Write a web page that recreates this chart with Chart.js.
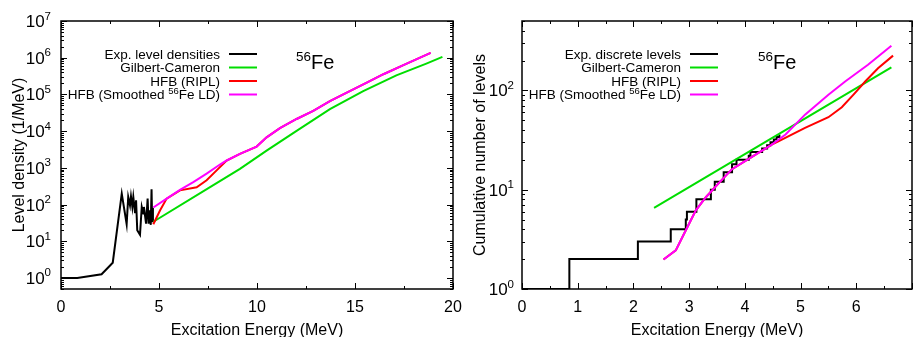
<!DOCTYPE html>
<html>
<head>
<meta charset="utf-8">
<script src="https://cdn.jsdelivr.net/npm/chart.js@4.4.0/dist/chart.umd.min.js"></script>
<style>
  body { margin: 0; background: #fff; width: 913px; height: 337px; overflow: hidden; position: relative; }
  #boxA { position: absolute; left: 0; top: 0; }
  #boxB { position: absolute; left: 456px; top: 0; }
</style>
</head>
<body>
<div id="boxA"><canvas id="levDens" width="470" height="337"></canvas></div>
<div id="boxB"><canvas id="cumLev" width="457" height="337"></canvas></div>
<script>
// ---- left panel: level density (1/MeV) vs excitation energy ----
var ldExpE   = [0, 0.83, 2.07, 2.64, 3.10, 3.35, 3.43, 3.52, 3.57, 3.64, 3.69, 3.78, 3.83, 3.89, 4.03, 4.12, 4.20, 4.23, 4.34, 4.42, 4.47, 4.54, 4.58, 4.62, 4.65, 4.69];
var ldExpRho = [1, 1, 1.26, 2.6, 198, 29, 160, 95, 167, 86, 160, 58, 130, 20, 15, 86, 57, 86, 30, 145, 30, 70, 28, 260, 35, 80];

var ldGcE   = [4.71, 7.5, 9.13, 10.49, 12.02, 13.72, 15.42, 17.11, 18.64, 19.46];
var ldGcRho = [34, 275, 933, 2950, 10200, 39800, 123000, 331000, 692000, 1050000];

var ldRiplE   = [4.71, 5.05, 5.39, 6.07, 6.92, 7.43, 7.94, 8.45, 9.13, 9.98, 10.49, 11.17, 12.02, 12.87, 13.72, 14.58, 15.60, 16.45, 17.47, 18.32, 18.86];
var ldRiplRho = [29, 69, 145, 243, 295, 457, 851, 1585, 2400, 3800, 6760, 12000, 21400, 35500, 66000, 112000, 209000, 355000, 631000, 1000000, 1350000];

var ldSmE   = [4.71, 5.39, 6.07, 6.75, 7.43, 8.11, 8.45, 9.13, 9.98, 10.49, 11.17, 12.02, 12.87, 13.72, 14.58, 15.60, 16.45, 17.47, 18.32, 18.86];
var ldSmRho = [83, 145, 251, 407, 692, 1230, 1585, 2400, 3800, 6760, 12000, 21400, 35500, 66000, 112000, 209000, 355000, 631000, 1000000, 1350000];

// ---- right panel: cumulative number of levels ----
var stairE = [0, 0.85, 2.08, 2.67, 2.94, 2.96, 3.13, 3.39, 3.46, 3.62, 3.77, 3.85, 4.07, 4.10, 4.31, 4.40, 4.46, 4.52, 4.57, 4.62];
var stairN = [1, 2, 3, 4, 5, 6, 8, 10, 12, 15, 18, 20, 22, 24, 26, 28, 30, 32, 34, 36];

var cumGcE = [2.37, 6.63];
var cumGcN = [6.56, 171];

var cumRiplE = [2.54, 2.76, 2.94, 3.12, 3.30, 3.54, 3.77, 4.01, 4.25, 4.49, 4.61, 5.08, 5.50, 5.74, 5.95, 6.16, 6.39, 6.66];
var cumRiplN = [1.98, 2.45, 3.9, 6.2, 8.4, 11.8, 16.1, 19.5, 23.6, 28.6, 30.9, 42, 53.7, 67.6, 90.6, 123, 167, 224];

var cumSmE = [2.54, 2.76, 2.94, 3.12, 3.30, 3.54, 3.77, 4.01, 4.25, 4.49, 4.73, 5.08, 5.50, 5.80, 6.21, 6.63];
var cumSmN = [1.98, 2.45, 3.9, 6.2, 8.4, 11.8, 16.1, 19.5, 23.6, 28.6, 36, 57, 90.6, 123, 181, 282];

// ---- axis ticks ----
var ldXTicks = [0, 5, 10, 15, 20];
var ldYDecades = [0, 1, 2, 3, 4, 5, 6, 7];
var cumXTicks = [0, 1, 2, 3, 4, 5, 6];
var cumYDecades = [0, 1, 2];

var FONT = '"Liberation Sans", Arial, Helvetica, sans-serif';
function font(px) { return px + 'px ' + FONT; }

function xy(xs, ys) {
  return xs.map(function (x, i) { return { x: x, y: ys[i] }; });
}

// parts: [text, size, rise]
function richText(ctx, parts, x, y, align) {
  var w = 0;
  parts.forEach(function (p) { ctx.font = font(p[1]); w += ctx.measureText(p[0]).width; });
  var cx = align === 'right' ? x - w : (align === 'center' ? x - w / 2 : x);
  ctx.textAlign = 'left';
  ctx.textBaseline = 'alphabetic';
  parts.forEach(function (p) {
    ctx.font = font(p[1]);
    ctx.fillText(p[0], cx, y - (p[2] || 0));
    cx += ctx.measureText(p[0]).width;
  });
}

function deco(cfg) {
  return {
    id: 'deco',
    afterDraw: function (chart) {
      var ctx = chart.ctx, a = chart.chartArea;
      var xs = chart.scales.x, ys = chart.scales.y;
      ctx.save();
      ctx.strokeStyle = '#000';
      ctx.fillStyle = '#000';

      // inward tick marks on all four sides
      ctx.lineWidth = 1;
      ctx.beginPath();
      function xTick(v, len) {
        var px = Math.round(xs.getPixelForValue(v)) + 0.5;
        ctx.moveTo(px, a.bottom); ctx.lineTo(px, a.bottom - len);
        ctx.moveTo(px, a.top); ctx.lineTo(px, a.top + len);
      }
      function yTick(v, len) {
        var py = Math.round(ys.getPixelForValue(v)) + 0.5;
        ctx.moveTo(a.left, py); ctx.lineTo(a.left + len, py);
        ctx.moveTo(a.right, py); ctx.lineTo(a.right - len, py);
      }
      for (var v = xs.min; v <= xs.max + 1e-9; v += cfg.xMinorStep) {
        var isMajor = Math.abs(v / cfg.xMajorStep - Math.round(v / cfg.xMajorStep)) < 1e-6;
        xTick(v, isMajor ? 6 : 3);
      }
      for (var d = Math.floor(Math.log10(ys.min)); d <= Math.ceil(Math.log10(ys.max)); d++) {
        for (var k = 1; k <= 9; k++) {
          var val = k * Math.pow(10, d);
          if (val < ys.min - 1e-9 || val > ys.max + 1e-9) continue;
          yTick(val, k === 1 ? 6 : 3);
        }
      }
      ctx.stroke();

      // frame
      ctx.lineWidth = 1.5;
      ctx.strokeRect(a.left, a.top, a.right - a.left, a.bottom - a.top);

      // x tick labels
      ctx.font = font(16);
      ctx.textAlign = 'center';
      ctx.textBaseline = 'alphabetic';
      cfg.xLabels.forEach(function (t) {
        ctx.fillText(String(t), xs.getPixelForValue(t), 312);
      });
      // y tick labels 10^n
      cfg.decades.forEach(function (n) {
        var py = ys.getPixelForValue(Math.pow(10, n));
        richText(ctx, [['10', 17, 0], [String(n), 11.5, 7.5]], a.left - cfg.labelGap, py + 6, 'right');
      });

      // axis titles
      ctx.font = font(16);
      ctx.textAlign = 'center';
      ctx.fillText('Excitation Energy (MeV)', (a.left + a.right) / 2, 335);
      ctx.save();
      ctx.translate(cfg.yTitleX, 155);
      ctx.rotate(-Math.PI / 2);
      ctx.fillText(cfg.yTitle, 0, 0);
      ctx.restore();

      // legend (text right-aligned, sample line after it)
      var rows = [54, 67.5, 81, 94.5];
      cfg.legend.forEach(function (parts, i) {
        var ds = chart.data.datasets[i];
        ctx.fillStyle = '#000';
        richText(ctx, parts, cfg.legX, rows[i] + 4.5, 'right');
        ctx.strokeStyle = ds.borderColor;
        ctx.lineWidth = 2;
        ctx.beginPath();
        ctx.moveTo(cfg.legX + 9, rows[i]);
        ctx.lineTo(cfg.legX + 37, rows[i]);
        ctx.stroke();
      });

      // nucleus label
      ctx.fillStyle = '#000';
      richText(ctx, [['56', 13.5, 8], ['Fe', 20, 0]], cfg.nucX, 69, 'left');
      ctx.restore();
    }
  };
}

function lineSet(label, data, color, order, extra) {
  var ds = {
    label: label, data: data, borderColor: color, backgroundColor: color,
    borderWidth: 2, pointRadius: 0, tension: 0, fill: false, order: order
  };
  for (var k in extra) ds[k] = extra[k];
  return ds;
}

function baseOptions(pad, xMin, xMax, yMin, yMax) {
  return {
    responsive: false,
    animation: false,
    events: [],
    layout: { padding: pad },
    plugins: { legend: { display: false }, tooltip: { enabled: false } },
    scales: {
      x: { type: 'linear', min: xMin, max: xMax, display: false },
      y: { type: 'logarithmic', min: yMin, max: yMax, display: false }
    }
  };
}

var smLegend = [['HFB (Smoothed ', 13.5, 0], ['56', 9.5, 5], ['Fe LD)', 13.5, 0]];

new Chart(document.getElementById('levDens').getContext('2d'), {
  type: 'line',
  data: {
    datasets: [
      lineSet('Exp. level densities', xy(ldExpE, ldExpRho), '#000000', 4),
      lineSet('Gilbert-Cameron', xy(ldGcE, ldGcRho), '#00dd00', 3),
      lineSet('HFB (RIPL)', xy(ldRiplE, ldRiplRho), '#ff0000', 2),
      lineSet('HFB (Smoothed 56Fe LD)', xy(ldSmE, ldSmRho), '#ff00ff', 1)
    ]
  },
  options: baseOptions({ left: 61, right: 17, top: 21, bottom: 48 }, 0, 20, 0.5, 1e7),
  plugins: [deco({
    xMajorStep: 5, xMinorStep: 2.5, xLabels: ldXTicks, decades: ldYDecades,
    labelGap: 10, yTitle: 'Level density (1/MeV)', yTitleX: 24,
    legX: 220, nucX: 296,
    legend: [[['Exp. level densities', 13.5, 0]], [['Gilbert-Cameron', 13.5, 0]], [['HFB (RIPL)', 13.5, 0]], smLegend]
  })]
});

new Chart(document.getElementById('cumLev').getContext('2d'), {
  type: 'line',
  data: {
    datasets: [
      lineSet('Exp. discrete levels', xy(stairE, stairN), '#000000', 4, { stepped: true }),
      lineSet('Gilbert-Cameron', xy(cumGcE, cumGcN), '#00dd00', 3),
      lineSet('HFB (RIPL)', xy(cumRiplE, cumRiplN), '#ff0000', 2),
      lineSet('HFB (Smoothed 56Fe LD)', xy(cumSmE, cumSmN), '#ff00ff', 1)
    ]
  },
  options: baseOptions({ left: 66, right: 1, top: 21, bottom: 48 }, 0, 7, 1, 500),
  plugins: [deco({
    xMajorStep: 1, xMinorStep: 0.5, xLabels: cumXTicks, decades: cumYDecades,
    labelGap: 8, yTitle: 'Cumulative number of levels', yTitleX: 29,
    legX: 225, nucX: 302,
    legend: [[['Exp. discrete levels', 13.5, 0]], [['Gilbert-Cameron', 13.5, 0]], [['HFB (RIPL)', 13.5, 0]], smLegend]
  })]
});
</script>
</body>
</html>
